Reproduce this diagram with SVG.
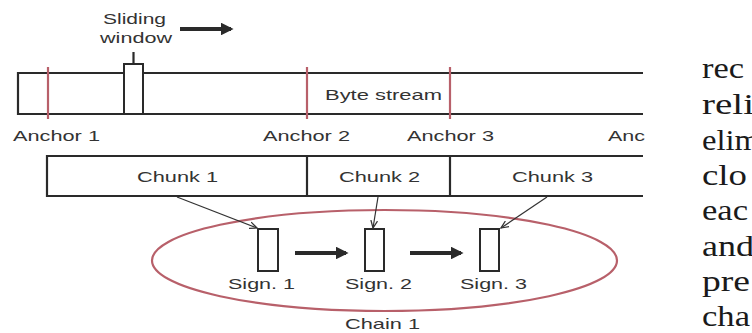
<svg xmlns="http://www.w3.org/2000/svg" width="752" height="333" viewBox="0 0 752 333">
<style>
.t{font-family:"Liberation Sans",Arial,sans-serif;font-size:14.5px;fill:#333;text-anchor:start}
.s{font-family:"Liberation Serif","Times New Roman",serif;font-size:29px;fill:#1a1a1a}
.ln{stroke:#2a2a2a;stroke-width:2.2;fill:none}
.box{stroke:#2a2a2a;stroke-width:2;fill:#fff}
.red{stroke:#b8606a;stroke-width:2.2}
.thick{stroke:#2a2a2a;stroke-width:4;fill:none}
.thin{stroke:#333;stroke-width:1.2;fill:none}
</style>
<defs>
<marker id="hd" viewBox="0 0 10 10" refX="8" refY="5" markerWidth="3.2" markerHeight="3.2" orient="auto" markerUnits="strokeWidth"><path d="M0,0 L10,5 L0,10 z" fill="#2a2a2a"/></marker>
<marker id="th" viewBox="0 0 10 10" refX="9" refY="5" markerWidth="7" markerHeight="7" orient="auto" markerUnits="strokeWidth"><path d="M0,1 L9,5 L0,9" fill="none" stroke="#333" stroke-width="1.5"/></marker>
</defs>
<rect width="752" height="333" fill="#fff"/>

<g id="byte-stream">
<path class="ln" d="M643,73 H18 V114 H643"/>
<text class="t" x="325" y="100" textLength="117" lengthAdjust="spacingAndGlyphs">Byte stream</text>
</g>

<g id="anchors">
<line class="red" x1="48" y1="67" x2="48" y2="119"/>
<line class="red" x1="307" y1="67" x2="307" y2="119"/>
<line class="red" x1="450" y1="67" x2="450" y2="119"/>
<text class="t" x="13" y="141" textLength="87" lengthAdjust="spacingAndGlyphs">Anchor 1</text>
<text class="t" x="263" y="141" textLength="87" lengthAdjust="spacingAndGlyphs">Anchor 2</text>
<text class="t" x="407" y="141" textLength="87" lengthAdjust="spacingAndGlyphs">Anchor 3</text>
<text class="t" x="608" y="141" textLength="37" lengthAdjust="spacingAndGlyphs">Anc</text>
</g>

<g id="sliding-window">
<rect class="box" x="124" y="64" width="19" height="50"/>
<line class="ln" x1="133.5" y1="52" x2="133.5" y2="64"/>
<text class="t" x="103" y="24" textLength="63" lengthAdjust="spacingAndGlyphs">Sliding</text>
<text class="t" x="100" y="43" textLength="72" lengthAdjust="spacingAndGlyphs">window</text>
</g>

<g id="chunks">
<path class="ln" d="M643,156 H47 V196 H643"/>
<line class="ln" x1="307" y1="156" x2="307" y2="196"/>
<line class="ln" x1="450" y1="156" x2="450" y2="196"/>
<text class="t" x="137" y="182" textLength="81" lengthAdjust="spacingAndGlyphs">Chunk 1</text>
<text class="t" x="339" y="182" textLength="81" lengthAdjust="spacingAndGlyphs">Chunk 2</text>
<text class="t" x="512" y="182" textLength="81" lengthAdjust="spacingAndGlyphs">Chunk 3</text>
</g>

<g id="chain">
<ellipse cx="384.5" cy="260.5" rx="232.5" ry="50.5" fill="none" stroke="#b8606a" stroke-width="2.2"/>
<text class="t" x="345" y="329" textLength="75" lengthAdjust="spacingAndGlyphs">Chain 1</text>
</g>

<g id="sign1">
<rect class="box" x="258" y="229" width="20" height="42"/>
<text class="t" x="228" y="289" textLength="67" lengthAdjust="spacingAndGlyphs">Sign. 1</text>
</g>
<g id="sign2">
<rect class="box" x="365" y="229" width="19" height="42"/>
<text class="t" x="345" y="289" textLength="67" lengthAdjust="spacingAndGlyphs">Sign. 2</text>
</g>
<g id="sign3">
<rect class="box" x="480" y="229" width="19" height="42"/>
<text class="t" x="460" y="289" textLength="67" lengthAdjust="spacingAndGlyphs">Sign. 3</text>
</g>

<g id="connectors">
<line class="thick" x1="180" y1="29" x2="231" y2="29" marker-end="url(#hd)"/>
<line class="thick" x1="295" y1="253" x2="346" y2="253" marker-end="url(#hd)"/>
<line class="thick" x1="410" y1="253" x2="461" y2="253" marker-end="url(#hd)"/>
<line class="thin" x1="177" y1="197" x2="257" y2="228" marker-end="url(#th)"/>
<line class="thin" x1="378" y1="197" x2="373" y2="228" marker-end="url(#th)"/>
<line class="thin" x1="547" y1="197" x2="501" y2="228" marker-end="url(#th)"/>
</g>

<g id="side-text">
<text class="s" x="702" y="78" textLength="42" lengthAdjust="spacingAndGlyphs">rec</text>
<text class="s" x="702" y="114" textLength="52" lengthAdjust="spacingAndGlyphs">reli</text>
<text class="s" x="702" y="150" textLength="58" lengthAdjust="spacingAndGlyphs">elim</text>
<text class="s" x="702" y="185" textLength="45" lengthAdjust="spacingAndGlyphs">clo</text>
<text class="s" x="702" y="220" textLength="46" lengthAdjust="spacingAndGlyphs">eac</text>
<text class="s" x="702" y="256" textLength="52" lengthAdjust="spacingAndGlyphs">and</text>
<text class="s" x="702" y="291" textLength="48" lengthAdjust="spacingAndGlyphs">pre</text>
<text class="s" x="702" y="326" textLength="48" lengthAdjust="spacingAndGlyphs">cha</text>
</g>
</svg>
